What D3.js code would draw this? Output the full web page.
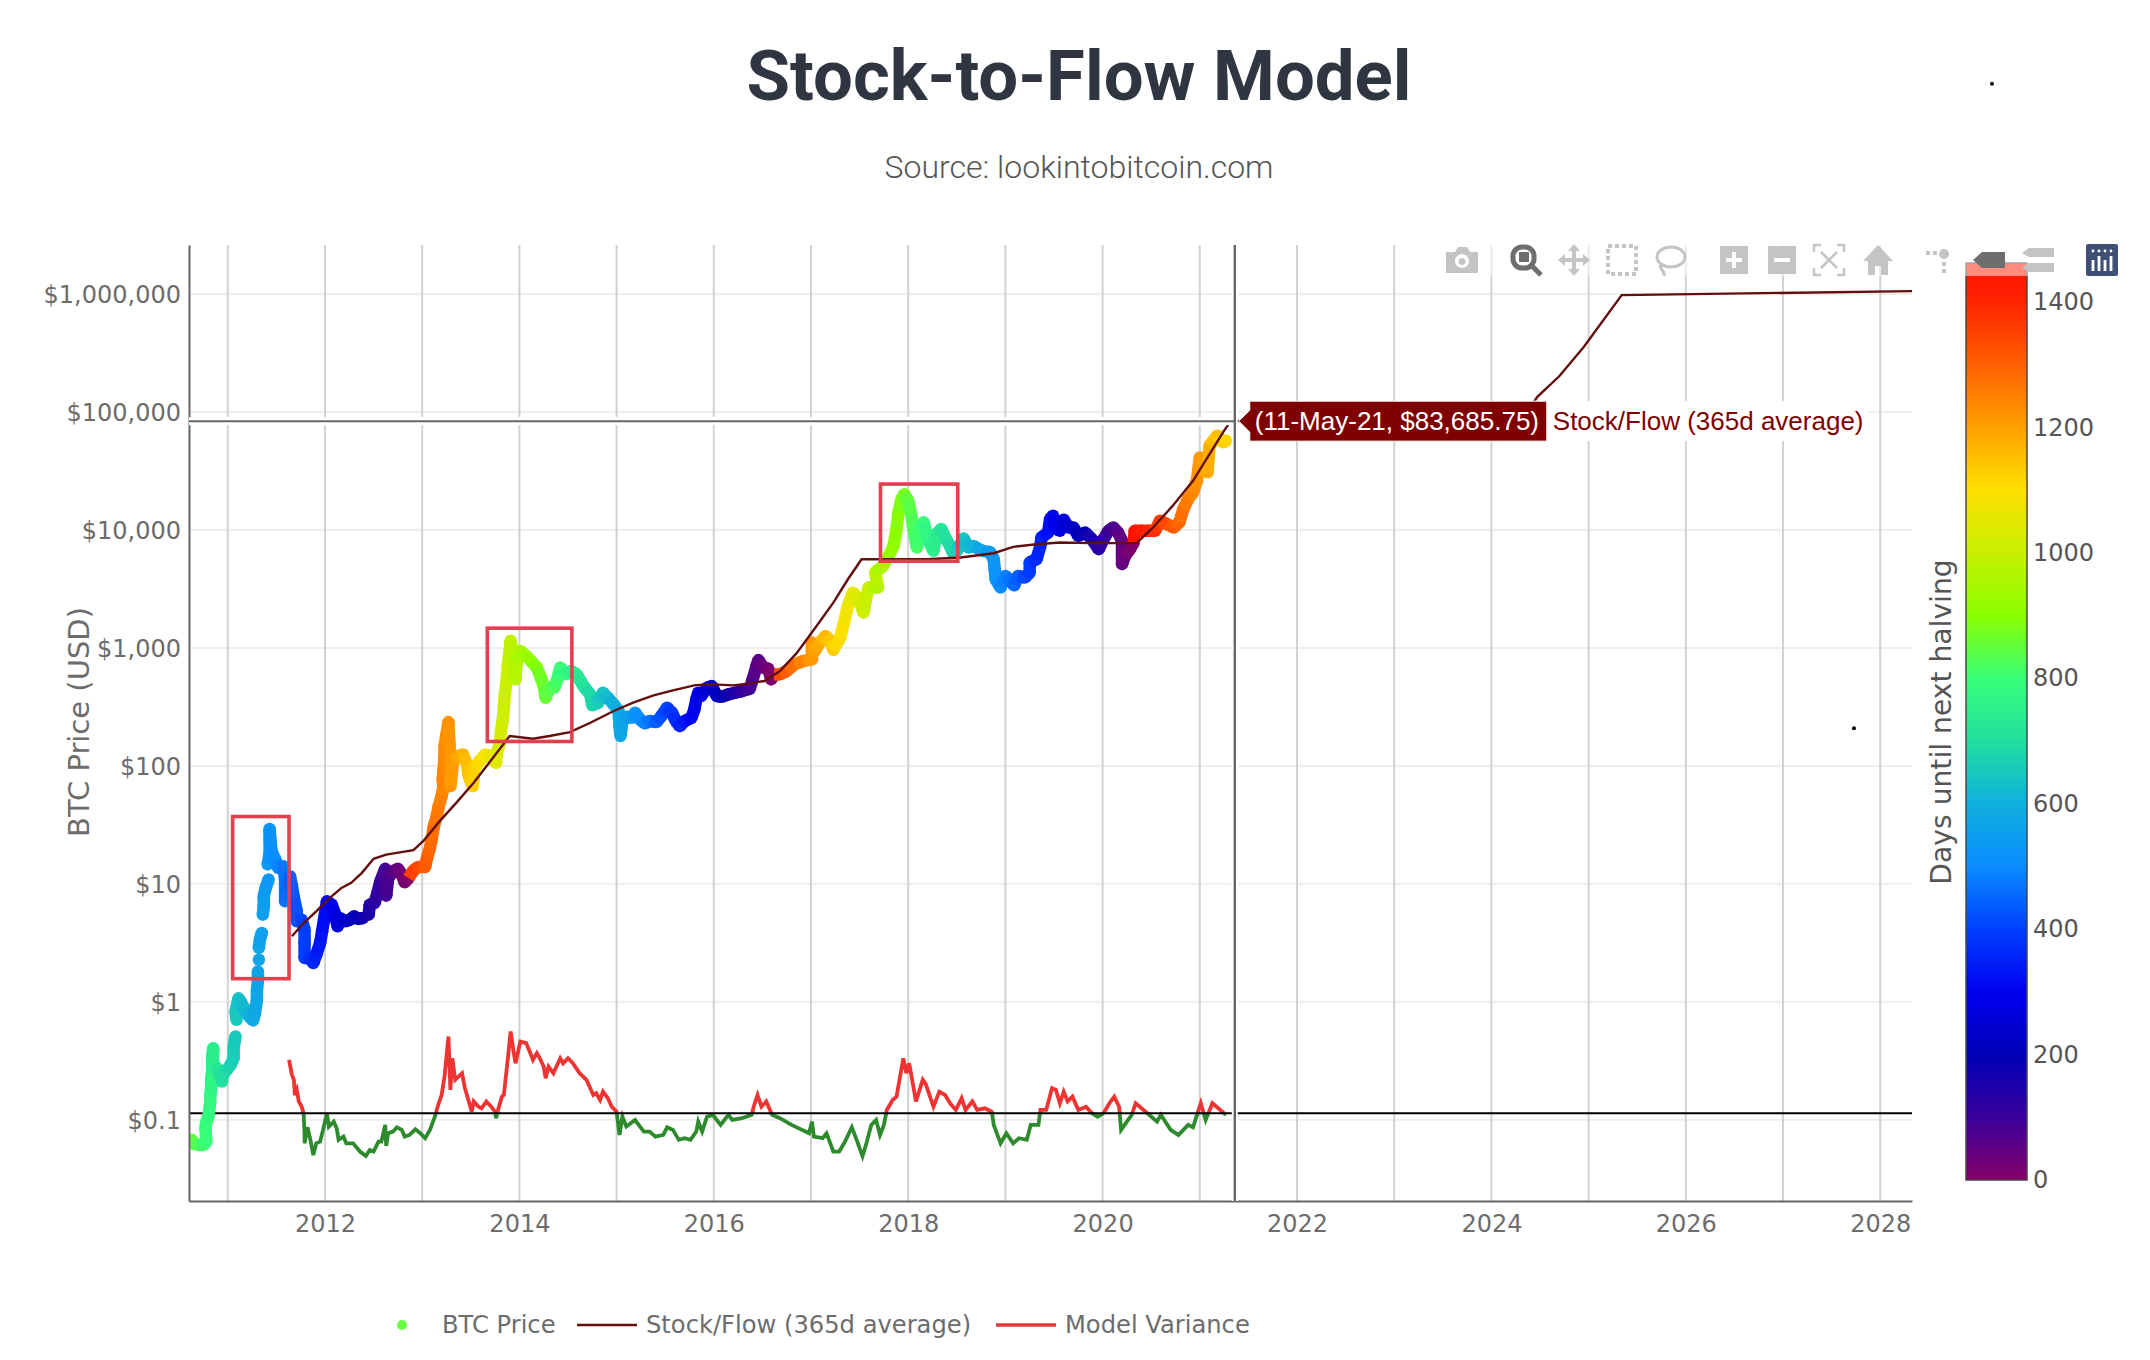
<!DOCTYPE html>
<html>
<head>
<meta charset="utf-8">
<title>Stock-to-Flow Model</title>
<script src="https://cdn.jsdelivr.net/npm/d3@7/dist/d3.min.js"></script>
<style>
  html, body { margin: 0; padding: 0; background: #fff; }
  svg { display: block; }
  text { font-family: "DejaVu Sans", sans-serif; fill: #6c6c6c; }
</style>
</head>
<body>
<svg id="chart"></svg>
<script>
const width = 2150;
const height = 1360;
const margin = { left: 189, right: 238, top: 245, bottom: 159 };

// BTC price: decimal year, USD, days until next halving
const btcYears = [
  2010.63,2010.65,2010.70,2010.75,2010.78,2010.77,2010.78,2010.80,2010.81,2010.82,
  2010.82,2010.83,2010.83,2010.84,2010.84,2010.85,2010.85,2010.89,2010.94,2010.95,
  2010.99,2011.03,2011.06,2011.06,2011.07,2011.08,2011.09,2011.08,2011.11,2011.13,
  2011.18,2011.22,2011.26,2011.28,2011.30,2011.30,2011.31,2011.31,2011.32,2011.32,
  2011.33,2011.35,2011.36,2011.37,2011.37,2011.39,2011.42,2011.41,2011.43,2011.43,
  2011.43,2011.45,2011.49,2011.52,2011.57,2011.59,2011.59,2011.61,2011.64,2011.66,
  2011.68,2011.71,2011.71,2011.76,2011.79,2011.79,2011.79,2011.84,2011.88,2011.91,
  2011.95,2011.97,2011.99,2012.01,2012.02,2012.07,2012.10,2012.13,2012.15,2012.21,
  2012.26,2012.30,2012.34,2012.39,2012.45,2012.46,2012.51,2012.54,2012.57,2012.62,
  2012.63,2012.65,2012.70,2012.75,2012.79,2012.82,2012.86,2012.91,2012.96,2013.03,
  2013.05,2013.08,2013.10,2013.12,2013.15,2013.17,2013.20,2013.22,2013.21,2013.22,
  2013.23,2013.23,2013.25,2013.27,2013.28,2013.29,2013.29,2013.29,2013.32,2013.37,
  2013.42,2013.46,2013.48,2013.52,2013.54,2013.59,2013.65,2013.70,2013.76,2013.77,
  2013.80,2013.81,2013.83,2013.84,2013.85,2013.87,2013.88,2013.90,2013.91,2013.93,
  2013.95,2013.96,2013.97,2014.01,2014.07,2014.12,2014.18,2014.22,2014.25,2014.27,
  2014.31,2014.36,2014.39,2014.42,2014.48,2014.53,2014.59,2014.63,2014.67,2014.73,
  2014.75,2014.81,2014.86,2014.91,2014.97,2015.02,2015.03,2015.04,2015.06,2015.10,
  2015.16,2015.19,2015.24,2015.29,2015.34,2015.41,2015.46,2015.52,2015.57,2015.61,
  2015.65,2015.70,2015.77,2015.80,2015.82,2015.84,2015.87,2015.93,2015.98,2016.03,
  2016.08,2016.15,2016.22,2016.29,2016.37,2016.40,2016.44,2016.46,2016.51,2016.56,
  2016.59,2016.62,2016.68,2016.75,2016.83,2016.92,2017.01,2017.01,2017.01,2017.04,
  2017.09,2017.15,2017.20,2017.23,2017.30,2017.34,2017.38,2017.43,2017.49,2017.54,
  2017.59,2017.69,2017.66,2017.74,2017.80,2017.85,2017.88,2017.90,2017.93,2017.96,
  2018.00,2018.03,2018.06,2018.09,2018.11,2018.16,2018.20,2018.26,2018.29,2018.34,
  2018.39,2018.43,2018.46,2018.50,2018.57,2018.62,2018.67,2018.76,2018.84,2018.88,
  2018.89,2018.90,2018.95,2019.00,2019.05,2019.09,2019.13,2019.20,2019.25,2019.25,
  2019.32,2019.36,2019.37,2019.44,2019.46,2019.49,2019.51,2019.56,2019.60,2019.65,
  2019.70,2019.75,2019.82,2019.89,2019.96,2020.01,2020.06,2020.11,2020.16,2020.20,
  2020.20,2020.20,2020.23,2020.28,2020.32,2020.33,2020.40,2020.47,2020.54,2020.59,
  2020.66,2020.73,2020.79,2020.83,2020.88,2020.93,2020.97,2021.00,2021.03,2021.08,
  2021.10,2021.18,2021.24,2021.27
];
const btcPrices = [
  0.0675,0.0623,0.0611,0.0611,0.0652,0.0847,0.0964,0.106,0.121,0.143,
  0.162,0.191,0.225,0.265,0.344,0.404,0.282,0.274,0.211,0.240,
  0.265,0.292,0.332,0.404,0.460,0.508,0.703,0.828,1.07,1.01,
  0.855,0.750,0.695,0.801,1.04,1.26,1.49,1.81,2.27,2.86,
  3.36,3.83,5.48,6.44,7.84,9.23,10.9,14.6,17.7,23.7,
  29.2,18.9,16.0,13.6,14.1,10.9,7.11,8.93,11.6,9.53,
  7.59,5.85,4.81,4.97,4.08,3.15,2.35,2.35,2.13,2.51,
  3.15,3.95,4.97,6.24,7.11,6.65,5.66,4.36,5.13,4.81,
  4.97,5.30,5.04,5.13,5.48,6.65,6.88,8.36,10.5,13.4,
  7.94,11.2,12.8,13.4,12.0,10.3,11.2,13.0,13.9,13.9,
  16.6,20.1,24.5,30.8,37.4,45.5,55.3,67.3,76.7,93.2,
  121,147,185,235,157,113,81.8,67.3,110,121,
  125,103,81.8,67.3,96.4,110,125,121,106,129,
  157,197,248,311,404,541,703,942,1150,912,
  703,541,750,942,855,774,681,560,475,378,
  460,460,541,681,597,637,597,524,460,404,
  326,343,417,378,332,292,217,179,240,261,
  256,282,248,229,240,235,264,311,282,240,
  217,240,256,301,366,417,391,460,475,391,
  385,404,417,430,451,541,703,789,679,667,
  541,597,597,637,726,774,800,942,1110,942,
  1110,1260,1150,962,1220,1640,2270,2940,2590,1990,
  3250,3250,4355,4960,6030,7330,10200,14100,18200,20100,
  17700,13600,9510,7100,10200,11600,8360,6650,9200,10200,
  8360,7330,6440,6650,8470,7100,7330,6650,6520,5650,
  4650,3820,3250,4080,3700,3400,4080,3950,4355,5300,
  5650,7330,8630,9510,12400,13200,10500,9840,12200,10500,
  10500,8910,9510,8360,6870,8360,9840,10500,9510,8090,
  6440,5130,6030,6870,7830,9840,9840,9840,9840,12000,
  11200,10500,11600,15000,18300,20800,26100,41200,32800,30800,
  51800,63000,55300,57100
];
const btcDays = [
  850,843,825,808,797,800,795,788,782,778,
  775,770,768,762,755,750,748,730,708,703,
  686,672,661,661,657,653,650,653,642,635,
  617,602,588,580,573,573,569,569,566,566,
  562,555,551,548,548,540,529,533,526,526,
  526,518,504,493,475,467,467,460,449,442,
  434,423,423,405,394,394,394,376,361,350,
  336,329,321,314,310,292,281,270,263,241,
  223,208,193,175,153,150,131,120,110,91,
  88,80,62,44,29,18,4,1354,1336,1310,
  1303,1292,1285,1278,1267,1259,1248,1241,1245,1241,
  1237,1237,1230,1223,1219,1215,1215,1215,1205,1186,
  1168,1153,1146,1132,1124,1106,1084,1066,1044,1040,
  1029,1026,1018,1015,1011,1004,1000,993,989,982,
  975,971,968,953,931,913,891,876,865,858,
  843,825,814,803,781,763,741,726,712,690,
  683,661,642,624,602,584,580,577,569,555,
  533,522,504,485,467,442,423,402,383,369,
  354,336,310,299,292,285,274,252,234,215,
  197,172,146,120,91,80,66,58,40,22,
  11,0,1332,1307,1278,1245,1212,1212,1212,1201,
  1183,1161,1142,1132,1106,1091,1077,1059,1037,1018,
  1000,964,974,956,934,916,905,898,887,876,
  850,840,829,818,810,792,777,756,745,726,
  708,693,683,668,642,624,606,573,544,529,
  526,522,504,485,467,453,438,412,394,394,
  369,354,350,325,318,307,299,281,266,248,
  230,212,186,161,135,117,99,80,62,47,
  47,47,36,18,4,1460,1434,1409,1383,1365,
  1340,1314,1292,1278,1259,1241,1226,1215,1205,1186,
  1179,1150,1128,1117
];
// prices where the 2011 run jumps and leaves a white gap before the dot
const btcGapPrices = [0.703, 2.27, 2.86, 5.48, 14.6];

// Stock/Flow (365d average)
const sfYears = [
  2011.66,2011.78,2011.91,2012.05,2012.17,2012.27,2012.38,2012.50,2012.63,2012.77,
  2012.91,2013.01,2013.18,2013.35,2013.53,2013.90,2014.14,2014.31,2014.52,2014.73,
  2014.97,2015.17,2015.38,2015.58,2015.81,2015.99,2016.20,2016.37,2016.52,2016.68,
  2016.85,2017.02,2017.23,2017.38,2017.52,2017.85,2018.19,2018.54,2018.88,2019.08,
  2019.32,2019.56,2019.90,2020.35,2020.52,2020.72,2020.93,2021.10,2021.25,2021.31,
  2021.36,2024.33,2024.47,2024.70,2024.95,2025.34,2028.33
];
const sfPrices = [
  3.59,4.65,5.85,7.59,9.23,10.2,12.4,16.3,17.7,18.5,
  19.3,23.0,34.0,48.6,71.8,179,170,179,193,232,
  292,343,396,437,484,491,481,500,524,637,
  899,1390,2420,3820,5650,5650,5650,5840,6350,7190,
  7570,7830,7730,7730,10500,16000,26100,44000,69500,81700,
  83686,88000,134000,202000,356000,980000,1060000
];

// Model variance, as plotted against the price axis
const varianceYears = [
  2011.63,2011.66,2011.68,2011.69,2011.71,2011.73,2011.76,2011.78,2011.79,2011.79,
  2011.82,2011.85,2011.88,2011.91,2011.95,2011.98,2012.02,2012.04,2012.09,2012.12,
  2012.14,2012.19,2012.22,2012.29,2012.36,2012.42,2012.46,2012.50,2012.55,2012.58,
  2012.62,2012.63,2012.65,2012.70,2012.74,2012.79,2012.82,2012.87,2012.93,2012.98,
  2013.03,2013.08,2013.13,2013.17,2013.20,2013.23,2013.27,2013.29,2013.31,2013.34,
  2013.41,2013.44,2013.47,2013.51,2013.53,2013.58,2013.61,2013.66,2013.71,2013.75,
  2013.76,2013.78,2013.82,2013.84,2013.88,2013.91,2013.94,2013.96,2014.01,2014.07,
  2014.14,2014.18,2014.21,2014.25,2014.27,2014.30,2014.35,2014.42,2014.45,2014.50,
  2014.55,2014.62,2014.69,2014.76,2014.79,2014.83,2014.86,2014.91,2014.95,2015.00,
  2015.03,2015.06,2015.10,2015.19,2015.28,
  2015.34,2015.40,2015.48,2015.52,2015.58,2015.64,2015.70,2015.76,2015.82,2015.84,
  2015.88,2015.93,2015.99,2016.07,2016.15,2016.19,2016.29,2016.39,2016.41,2016.45,
  2016.49,2016.54,2016.60,2016.68,2016.80,2016.98,2017.01,2017.03,2017.12,2017.16,
  2017.23,2017.29,2017.35,2017.42,2017.47,2017.53,2017.57,2017.62,2017.67,2017.71,
  2017.75,2017.78,2017.84,2017.88,2017.95,2017.98,2018.01,2018.08,2018.15,2018.18,
  2018.26,2018.32,2018.38,2018.43,2018.49,2018.55,2018.59,2018.66,2018.71,2018.79,
  2018.86,2018.88,2018.95,2019.01,2019.08,2019.14,2019.22,2019.26,2019.34,2019.36,
  2019.42,2019.48,2019.52,2019.56,2019.60,2019.64,2019.69,2019.75,2019.83,2019.89,
  2019.95,2020.01,2020.07,2020.12,2020.17,2020.19,2020.25,2020.30,2020.34,2020.40,
  2020.46,2020.56,2020.60,2020.70,2020.78,2020.88,2020.93,2021.01,2021.06,2021.13,
  2021.19,2021.27
];
const varianceValues = [
  0.322,0.240,0.218,0.162,0.179,0.143,0.129,0.1135,0.0743,0.0631,
  0.0863,0.0675,0.0502,0.0631,0.0652,0.0820,0.1135,0.0875,0.0964,0.0847,
  0.0675,0.0719,0.0631,0.0631,0.0537,0.0493,0.0554,0.0537,0.0652,0.0652,
  0.0904,0.0600,0.0768,0.0794,0.0863,0.0820,0.0719,0.0743,0.0830,0.0768,
  0.0697,0.0820,0.106,0.138,0.162,0.232,0.508,0.179,0.332,0.218,
  0.248,0.185,0.152,0.117,0.143,0.129,0.125,0.143,0.129,0.117,
  0.103,0.121,0.157,0.162,0.322,0.560,0.379,0.301,0.460,0.446,
  0.322,0.367,0.332,0.282,0.225,0.282,0.248,0.332,0.301,0.332,
  0.301,0.248,0.218,0.162,0.168,0.147,0.173,0.152,0.129,0.117,
  0.0743,0.106,0.0875,0.0995,0.0794,
  0.0794,0.0719,0.0743,0.0863,0.0820,0.0675,0.0697,0.0675,0.0794,0.0964,
  0.0794,0.106,0.110,0.0904,0.110,0.0995,0.103,0.110,0.129,0.162,
  0.129,0.143,0.110,0.103,0.0904,0.0768,0.0964,0.0719,0.0697,0.0768,
  0.0537,0.0537,0.0652,0.0863,0.0675,0.0490,0.0631,0.0904,0.0995,0.0743,
  0.0904,0.121,0.147,0.157,0.332,0.248,0.301,0.143,0.218,0.201,
  0.129,0.173,0.162,0.138,0.121,0.152,0.121,0.143,0.121,0.125,
  0.117,0.0904,0.0631,0.0768,0.0631,0.0697,0.0675,0.0904,0.0904,0.121,
  0.121,0.185,0.179,0.138,0.173,0.143,0.157,0.121,0.129,0.1135,
  0.106,0.1135,0.138,0.157,0.129,0.0820,0.0964,0.110,0.138,0.125,
  0.1135,0.0964,0.110,0.0820,0.0743,0.0904,0.0863,0.138,0.0995,0.138,
  0.125,0.110
];
const varianceLevel = 0.1135;

// Highlighted periods: start year, end year, low and high price
const boxStart = [2011.05, 2013.67, 2017.715];
const boxEnd = [2011.63, 2014.54, 2018.51];
const boxLow = [1.57, 161, 5430];
const boxHigh = [37.2, 1470, 24500];

// Hover state of the screenshot
const hoverYear = 2021.36;
const hoverPrice = 83685.75;
const hoverText = "(11-May-21, $83,685.75)";
const hoverName = "Stock/Flow (365d average)";

// Two stray specks in the screenshot
const speckYears = [2027.73, 2029.15];
const speckPrices = [208, 60800000];

const yearGrid = d3.range(2011, 2029);
const yearLabels = d3.range(2012, 2029, 2);
const priceTicks = [0.1, 1, 10, 100, 1000, 10000, 100000, 1000000];
const dayTicks = [0, 200, 400, 600, 800, 1000, 1200, 1400];
const dayStops = [0, 100, 200, 300, 400, 500, 600, 700, 800, 900, 1000, 1100, 1200, 1300, 1400, 1462];
const dayColors = ["#850068", "#3a009c", "#0000b8", "#0000f0", "#0040ff", "#0a8cff", "#10b0dd", "#20dfa0",
  "#38ff78", "#8aff00", "#c8f000", "#ffe000", "#ffa000", "#ff6000", "#ff2400", "#ff1400"];
const legendItems = ["BTC Price", "Stock/Flow (365d average)", "Model Variance"];

const svg = d3.select("#chart").attr("width", width).attr("height", height);

const x = d3.scaleLinear().domain([2010.601, 2028.327]).range([margin.left, width - margin.right]);
const y = d3.scaleLog().domain([10 ** -1.689, 10 ** 6.416]).range([height - margin.bottom, margin.top]);
const dayY = d3.scaleLinear().domain([0, 1462]).range([1180, 263]);
const dayColor = d3.scaleLinear().domain(dayStops).range(dayColors);

const defs = svg.append("defs");
defs.append("clipPath").attr("id", "plot-clip").append("rect")
  .attr("x", margin.left).attr("y", margin.top)
  .attr("width", width - margin.left - margin.right)
  .attr("height", height - margin.top - margin.bottom);
defs.append("clipPath").attr("id", "above-level").append("rect")
  .attr("x", margin.left).attr("y", margin.top)
  .attr("width", width - margin.left - margin.right)
  .attr("height", y(varianceLevel) - margin.top);
defs.append("clipPath").attr("id", "below-level").append("rect")
  .attr("x", margin.left).attr("y", y(varianceLevel))
  .attr("width", width - margin.left - margin.right)
  .attr("height", height - margin.bottom - y(varianceLevel));
const gradient = defs.append("linearGradient").attr("id", "day-gradient")
  .attr("x1", 0).attr("x2", 0).attr("y1", 1).attr("y2", 0);
dayStops.forEach((d, i) => {
  gradient.append("stop").attr("offset", d / 1462).attr("stop-color", dayColors[i]);
});

// Title
svg.append("text").attr("x", 1079).attr("y", 100).attr("text-anchor", "middle")
  .style("font-family", "Roboto").style("font-weight", 700).style("font-size", "70.7px").style("fill", "#2f3642")
  .text("Stock-to-Flow Model");
svg.append("text").attr("x", 1079).attr("y", 178).attr("text-anchor", "middle")
  .style("font-family", "Roboto").style("font-weight", 300).style("font-size", "32px").style("fill", "#555")
  .text("Source: lookintobitcoin.com");

// Grid
svg.append("g").selectAll("line").data(priceTicks).enter().append("line")
  .attr("x1", margin.left).attr("x2", width - margin.right)
  .attr("y1", d => y(d)).attr("y2", d => y(d))
  .attr("stroke", "#eeeeee").attr("stroke-width", 2);
svg.append("g").selectAll("line").data(yearGrid).enter().append("line")
  .attr("x1", d => x(d)).attr("x2", d => x(d))
  .attr("y1", margin.top).attr("y2", height - margin.bottom)
  .attr("stroke", "#d2d2d2").attr("stroke-width", 2);

// Model variance, red above the level and green below it
const varianceData = varianceYears.map((d, i) => ({ year: d, value: varianceValues[i] }));
const varianceLine = d3.line().x(d => x(d.year)).y(d => y(d.value));
svg.append("path").datum(varianceData).attr("clip-path", "url(#above-level)")
  .attr("d", varianceLine).attr("fill", "none").attr("stroke", "#ee3333")
  .attr("stroke-width", 3.8).attr("stroke-linejoin", "miter");
svg.append("path").datum(varianceData).attr("clip-path", "url(#below-level)")
  .attr("d", varianceLine).attr("fill", "none").attr("stroke", "#2d8a2d")
  .attr("stroke-width", 3.8).attr("stroke-linejoin", "miter");

// Level line
svg.append("line")
  .attr("x1", margin.left).attr("x2", width - margin.right)
  .attr("y1", y(varianceLevel)).attr("y2", y(varianceLevel))
  .attr("stroke", "#000").attr("stroke-width", 2);

// BTC price dots, each joined to the one before it so the daily band stays solid
const btcData = btcYears.map((d, i) => ({ year: d, price: btcPrices[i], days: btcDays[i] }));
const btcG = svg.append("g").attr("clip-path", "url(#plot-clip)");
btcData.forEach((d, i) => {
  const prev = btcData[i - 1];
  if (prev && !btcGapPrices.includes(d.price)) {
    btcG.append("line")
      .attr("x1", x(prev.year)).attr("y1", y(prev.price))
      .attr("x2", x(d.year)).attr("y2", y(d.price))
      .attr("stroke", dayColor(d.days)).attr("stroke-width", 12.5);
  }
  btcG.append("circle")
    .attr("cx", x(d.year)).attr("cy", y(d.price)).attr("r", 6.25)
    .attr("fill", dayColor(d.days));
});

// Stock/Flow line
const sfData = sfYears.map((d, i) => ({ year: d, price: sfPrices[i] }));
svg.append("path").datum(sfData).attr("clip-path", "url(#plot-clip)")
  .attr("d", d3.line().x(d => x(d.year)).y(d => y(d.price)))
  .attr("fill", "none").attr("stroke", "#640f0f").attr("stroke-width", 2.4);

// Highlight boxes
const boxData = boxStart.map((d, i) => ({ x0: d, x1: boxEnd[i], low: boxLow[i], high: boxHigh[i] }));
svg.append("g").selectAll("rect").data(boxData).enter().append("rect")
  .attr("x", d => x(d.x0)).attr("y", d => y(d.high))
  .attr("width", d => x(d.x1) - x(d.x0)).attr("height", d => y(d.low) - y(d.high))
  .attr("fill", "none").attr("stroke", "#e2404e").attr("stroke-width", 3.6);

// Axes
const xAxis = d3.axisBottom(x).tickValues(yearLabels).tickFormat(d3.format("d")).tickSize(0).tickPadding(14);
const xAxisG = svg.append("g").attr("transform", `translate(0,${height - margin.bottom})`).call(xAxis);
xAxisG.select(".domain").attr("stroke", "#666").attr("stroke-width", 2);
xAxisG.selectAll("text").style("font-size", "24px").style("font-family", "DejaVu Sans").style("fill", "#6c6c6c");

const yAxis = d3.axisLeft(y).tickValues(priceTicks)
  .tickFormat(d => d < 1 ? "$" + d : "$" + d3.format(",")(d)).tickSize(0).tickPadding(8);
const yAxisG = svg.append("g").attr("transform", `translate(${margin.left},0)`).call(yAxis);
yAxisG.select(".domain").attr("stroke", "#666").attr("stroke-width", 2);
yAxisG.selectAll("text").attr("dy", "0.36em").style("font-size", "24px").style("font-family", "DejaVu Sans").style("fill", "#6c6c6c");

svg.append("text").attr("transform", "translate(89,722) rotate(-90)").attr("text-anchor", "middle")
  .style("font-size", "29px").text("BTC Price (USD)");

// Crosshair, with the white halo it has in plotly
const spikeX = x(hoverYear);
const spikeY = y(hoverPrice);
svg.append("line").attr("x1", margin.left).attr("x2", spikeX).attr("y1", spikeY).attr("y2", spikeY)
  .attr("stroke", "#fff").attr("stroke-width", 8);
svg.append("line").attr("x1", spikeX).attr("x2", spikeX).attr("y1", margin.top).attr("y2", height - margin.bottom)
  .attr("stroke", "#fff").attr("stroke-width", 6);
svg.append("line").attr("x1", margin.left).attr("x2", spikeX).attr("y1", spikeY).attr("y2", spikeY)
  .attr("stroke", "#666").attr("stroke-width", 2);
svg.append("line").attr("x1", spikeX).attr("x2", spikeX).attr("y1", margin.top).attr("y2", height - margin.bottom)
  .attr("stroke", "#666").attr("stroke-width", 2.4);

// Hover label
const hover = svg.append("g").attr("transform", `translate(${spikeX},${spikeY})`);
hover.append("rect").attr("x", 312).attr("y", -20).attr("width", 322).attr("height", 40).attr("fill", "#fff");
hover.append("path").attr("d", "M4,0L15,-11V-20H312V20H15V11Z").attr("fill", "#7f0000").attr("stroke", "#fff").attr("stroke-width", 1);
hover.append("text").attr("x", 20).attr("y", 9).style("font-family", "Liberation Sans").style("font-size", "26px")
  .style("fill", "#fff").text(hoverText);
hover.append("text").attr("x", 318).attr("y", 9).style("font-family", "Liberation Sans").style("font-size", "26px")
  .style("fill", "#7f0000").text(hoverName);

// Colour bar
const barX = 1966;
const barW = 61;
svg.append("rect").attr("x", barX).attr("y", dayY(1462)).attr("width", barW).attr("height", dayY(0) - dayY(1462))
  .attr("fill", "url(#day-gradient)").attr("stroke", "#444").attr("stroke-opacity", 0.9).attr("stroke-width", 1.6);
const dayAxis = d3.axisRight(dayY).tickValues(dayTicks).tickFormat(d3.format("d")).tickSize(0).tickPadding(6);
const dayAxisG = svg.append("g").attr("transform", `translate(${barX + barW},0)`).call(dayAxis);
dayAxisG.select(".domain").remove();
dayAxisG.selectAll("text").style("font-size", "24px").style("font-family", "DejaVu Sans").style("fill", "#555");
svg.append("text").attr("transform", "translate(1951,722) rotate(-90)").attr("text-anchor", "middle")
  .style("font-size", "28.2px").style("fill", "#555").text("Days until next halving");

// Legend
const legendY = 1325;
svg.append("circle").attr("cx", 402).attr("cy", legendY).attr("r", 5).attr("fill", "#66ff44");
svg.append("line").attr("x1", 577).attr("x2", 637).attr("y1", legendY).attr("y2", legendY)
  .attr("stroke", "#640f0f").attr("stroke-width", 2.4);
svg.append("line").attr("x1", 996).attr("x2", 1056).attr("y1", legendY).attr("y2", legendY)
  .attr("stroke", "#e03a3a").attr("stroke-width", 3.4);
svg.append("g").selectAll("text").data(legendItems).enter().append("text")
  .attr("x", (d, i) => [442, 646, 1065][i]).attr("y", legendY + 8)
  .style("font-size", "24.2px").text(d => d);

// Specks
svg.append("g").selectAll("circle").data(speckYears).enter().append("circle")
  .attr("cx", d => x(d)).attr("cy", (d, i) => y(speckPrices[i])).attr("r", 2).attr("fill", "#000");

// Plotly modebar
svg.append("rect").attr("x", 1445).attr("y", 243).attr("width", 680).attr("height", 33)
  .attr("fill", "#fff").attr("fill-opacity", 0.5);
const bar = svg.append("g");
const icon = cx => bar.append("g").attr("transform", `translate(${cx},260)`);
const light = "#c4c4c4";
const dark = "#6e6e6e";
// camera
let g = icon(1462);
g.append("path").attr("fill", light).attr("fill-rule", "evenodd")
  .attr("d", "M-16,-8H-7L-4,-13H5L8,-8H16V13H-16ZM0,-6a7,7 0 1,0 0.01,0ZM0,-2a3.5,3.5 0 1,1 -0.01,0Z");
// zoom
g = icon(1525);
g.append("rect").attr("x", -12).attr("y", -13).attr("width", 21).attr("height", 21).attr("rx", 9).attr("fill", "none").attr("stroke", dark).attr("stroke-width", 5);
g.append("rect").attr("x", -6).attr("y", -8).attr("width", 10).attr("height", 10).attr("fill", dark);
g.append("line").attr("x1", 6).attr("y1", 5).attr("x2", 16).attr("y2", 15).attr("stroke", dark).attr("stroke-width", 5);
// pan
g = icon(1574);
g.append("path").attr("fill", light).attr("d", "M0,-16L6,-9H2V-2H9V-6L16,0L9,6V2H2V9H6L0,16L-6,9H-2V2H-9V6L-16,0L-9,-6V-2H-2V-9H-6Z");
// box select
g = icon(1622);
g.append("rect").attr("x", -14).attr("y", -14).attr("width", 28).attr("height", 28).attr("fill", "none")
  .attr("stroke", light).attr("stroke-width", 4).attr("stroke-dasharray", "4 3");
// lasso
g = icon(1670);
g.append("ellipse").attr("cx", 1).attr("cy", -3).attr("rx", 14).attr("ry", 10).attr("fill", "none").attr("stroke", light).attr("stroke-width", 3);
g.append("path").attr("d", "M-9,4C-12,10 -4,10 -6,16").attr("fill", "none").attr("stroke", light).attr("stroke-width", 3);
// zoom in, zoom out
g = icon(1734);
g.append("rect").attr("x", -14).attr("y", -14).attr("width", 28).attr("height", 28).attr("fill", light);
g.append("path").attr("d", "M-8,0H8M0,-8V8").attr("stroke", "#fff").attr("stroke-width", 4);
g = icon(1782);
g.append("rect").attr("x", -14).attr("y", -14).attr("width", 28).attr("height", 28).attr("fill", light);
g.append("path").attr("d", "M-8,0H8").attr("stroke", "#fff").attr("stroke-width", 4);
// autoscale
g = icon(1829);
g.append("path").attr("d", "M-15,-8V-15H-8M8,-15H15V-8M15,8V15H8M-8,15H-15V8M-8,-8L8,8M8,-8L-8,8").attr("fill", "none").attr("stroke", light).attr("stroke-width", 2.5);
// home
g = icon(1878);
g.append("path").attr("fill", light).attr("d", "M0,-15L15,1H10V15H3V6H-3V15H-10V1H-15Z");
// spikes
g = icon(1940);
g.append("circle").attr("cx", 4).attr("cy", -6).attr("r", 5).attr("fill", light);
g.append("path").attr("d", "M-14,-7H-2M4,2V14").attr("stroke", light).attr("stroke-width", 4).attr("stroke-dasharray", "4 3");
// closest
g = icon(1989);
g.append("path").attr("fill", dark).attr("d", "M-16,0L-7,-8H16V8H-7Z");
// compare
g = icon(2038);
g.append("path").attr("fill", light).attr("d", "M-16,-7L-9,-12H16V-3H-9ZM-16,7L-9,3H16V12H-9Z");
// plotly logo
g = icon(2102);
g.append("rect").attr("x", -16).attr("y", -16).attr("width", 32).attr("height", 32).attr("rx", 2).attr("fill", "#3f4f75");
g.selectAll("circle").data([-9, -3, 3, 9]).enter().append("circle")
  .attr("cx", d => d).attr("cy", -9).attr("r", 1.4).attr("fill", "#fff");
g.selectAll("rect.b").data([-9, -3, 3, 9]).enter().append("rect").attr("class", "b")
  .attr("x", d => d - 1.4).attr("y", (d, i) => i % 2 ? -4 : 0).attr("width", 2.8)
  .attr("height", (d, i) => i % 2 ? 15 : 11).attr("fill", "#fff");
</script>
</body>
</html>
